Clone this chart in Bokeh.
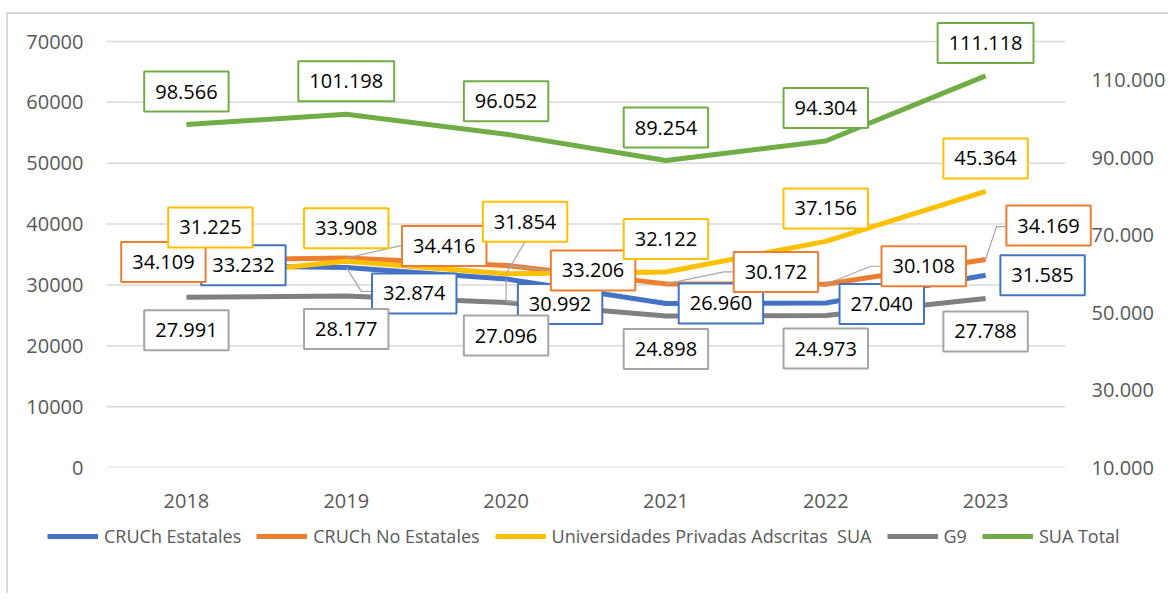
from bokeh.plotting import figure
from bokeh.layouts import column
from bokeh.models import (Range1d, LinearAxis, FixedTicker, ColumnDataSource,
                          Legend, LegendItem)
from bokeh.embed import file_html
from bokeh.resources import INLINE
from bokeh.core.properties import value

# ---------------- data ----------------
years = ["2018", "2019", "2020", "2021", "2022", "2023"]
cruch_estatales = [33232, 32874, 30992, 26960, 27040, 31585]
cruch_no_estatales = [34109, 34416, 33206, 30172, 30108, 34169]
privadas_sua = [31225, 33908, 31854, 32122, 37156, 45364]
g9 = [27991, 28177, 27096, 24898, 24973, 27788]
sua_total = [98566, 101198, 96052, 89254, 94304, 111118]

left_ticks = [0, 10000, 20000, 30000, 40000, 50000, 60000, 70000]
right_ticks = [10000, 30000, 50000, 70000, 90000, 110000]
series_names = ["CRUCh Estatales", "CRUCh No Estatales",
                "Universidades Privadas Adscritas  SUA", "G9", "SUA Total"]

# ---------------- layout / style ----------------
GRID_W, GRID_H = 959, 426          # plot area (gridlines) in px
FRAME_W, FRAME_H = 1090, 448       # frame larger than plot area so labels/legend are not clipped
PAD_L, PAD_T = 67, 22              # frame extends this far left / above the plot area
BORDER_L, BORDER_T, BORDER_R, BORDER_B = 39, 19, 30, 56
LEFT_MAX, RIGHT_MIN, RIGHT_MAX = 70000, 10000, 120000
colors = ["#4472C4", "#ED7D31", "#FFC000", "#808080", "#70AD47"]
box_colors = ["#4472C4", "#ED7D31", "#FFC000", "#A5A5A5", "#70AD47"]
FONT = "Open Sans"
AX_COLOR = "#595959"

# label offsets in screen px (dx right, dy down) relative to each data point
label_offsets = [
    [(57, 0), (68, 26), (54, 25), (55, 0), (56, 1), (57, 0)],
    [(-23, 2), (98, -12), (87, 5), (110, -12), (98, -18), (63, -34)],
    [(24, -50), (0, -33), (19, -52), (0, -33), (0, -33), (0, -33)],
    [(0, 33)] * 6,
    [(0, -33)] * 6,
]
# leader lines: (series index, point index, path of px offsets)
leaders = [
    (2, 0, [(0, 0), (22, -29)]),
    (1, 1, [(0, 0), (57, -13)]),
    (0, 1, [(0, 0), (15, 24), (27, 24)]),
    (2, 2, [(0, 0), (19, -32)]),
    (1, 2, [(0, 0), (45, 5)]),
    (0, 2, [(0, 0), (0, 23), (12, 23)]),
    (1, 3, [(0, 0), (58, -12), (69, -12)]),
    (1, 4, [(0, 0), (45, -18), (56, -18)]),
    (1, 5, [(0, 0), (11, -33), (21, -33)]),
]

n = len(years)
xs = list(range(n))
x_per_px = n / GRID_W
x0 = -0.5 - PAD_L * x_per_px
xr = Range1d(x0, x0 + FRAME_W * x_per_px)

p = figure(frame_width=FRAME_W, frame_height=FRAME_H,
           min_border_left=BORDER_L, min_border_right=BORDER_R,
           min_border_top=BORDER_T, min_border_bottom=BORDER_B,
           x_range=xr,
           y_range=Range1d(0, LEFT_MAX * FRAME_H / GRID_H),
           output_backend="svg", toolbar_location=None,
           background_fill_alpha=0, border_fill_alpha=0)
p.outline_line_color = None
p.extra_y_ranges = {"right": Range1d(RIGHT_MIN, RIGHT_MIN + (RIGHT_MAX - RIGHT_MIN) * FRAME_H / GRID_H)}

# axes
p.xaxis.ticker = FixedTicker(ticks=xs)
p.xaxis.major_label_overrides = {i: y for i, y in enumerate(years)}
p.xaxis.major_label_standoff = 20

p.yaxis.ticker = FixedTicker(ticks=left_ticks)
p.yaxis.major_label_overrides = {t: str(t) for t in left_ticks}
p.yaxis.major_label_standoff = -50

raxis = LinearAxis(y_range_name="right", ticker=FixedTicker(ticks=right_ticks),
                   major_label_overrides={t: f"{t:,}".replace(",", ".") for t in right_ticks})
raxis.major_label_standoff = -44
p.add_layout(raxis, "right")

for ax in [p.xaxis[0], p.yaxis[0], raxis]:
    ax.axis_line_color = None
    ax.major_tick_line_color = None
    ax.minor_tick_line_color = None
    ax.major_label_text_font = FONT
    ax.major_label_text_font_size = "20px"
    ax.major_label_text_color = AX_COLOR

p.xgrid.visible = False
p.ygrid.visible = False
# gridlines across the plot area only
p.segment(x0=[-0.5] * len(left_ticks), x1=[n - 0.5] * len(left_ticks),
          y0=left_ticks, y1=left_ticks, line_color="#D9D9D9", line_width=1.5)

all_series = [cruch_estatales, cruch_no_estatales, privadas_sua, g9, sua_total]
range_names = ["default", "default", "default", "default", "right"]

for vals, col, rn in zip(all_series, colors, range_names):
    p.line(xs, vals, line_color=col, line_width=5, line_join="round", y_range_name=rn)

# leader lines
lx, ly = [], []
for si, pi, path in leaders:
    rn = range_names[si]
    span = LEFT_MAX if rn == "default" else (RIGHT_MAX - RIGHT_MIN)
    y_per_px = span / GRID_H
    lx.append([xs[pi] + dx * x_per_px for dx, dy in path])
    ly.append([all_series[si][pi] - dy * y_per_px for dx, dy in path])
p.multi_line(lx, ly, line_color="#A6A6A6", line_width=1.2)

# data labels
for vals, bc, rn, offs in zip(all_series, box_colors, range_names, label_offsets):
    src = ColumnDataSource(dict(
        x=xs, y=vals,
        t=[f"{v:,}".replace(",", ".") for v in vals],
        dx=[o[0] for o in offs], dy=[o[1] for o in offs]))
    p.text(x="x", y="y", text="t", source=src, x_offset="dx", y_offset="dy",
           text_align="center", text_baseline="middle",
           text_font=value(FONT), text_font_size="20px", text_color="black",
           background_fill_color="white", border_line_color=bc,
           border_line_width=2,
           padding=dict(left=11, right=11, top=13, bottom=13),
           y_range_name=rn)

# ---------------- legend strip (own frame so it is not clipped) ----------------
LEG_H = 70
pl = figure(frame_width=FRAME_W, frame_height=LEG_H, x_range=xr, y_range=Range1d(-2, -1),
            x_axis_type=None, y_axis_type=None,
            min_border_left=BORDER_L, min_border_right=BORDER_R,
            min_border_top=0, min_border_bottom=0,
            output_backend="svg", toolbar_location=None,
            background_fill_alpha=0, border_fill_alpha=0)
pl.outline_line_color = None
pl.grid.visible = False
# same series drawn outside the strip's visible y-range: only their legend glyphs show
leg_renderers = [pl.line(xs, vals, line_color=col, line_width=5)
                 for vals, col in zip(all_series, colors)]
legend = Legend(items=[LegendItem(label=nm, renderers=[r]) for nm, r in zip(series_names, leg_renderers)],
                orientation="horizontal", location=(8, 45),
                label_text_font=FONT, label_text_font_size="18px",
                label_text_color=AX_COLOR, glyph_width=51, glyph_height=20,
                label_standoff=6, spacing=15, padding=0, margin=0,
                border_line_color=None, background_fill_alpha=0)
pl.add_layout(legend)

layout = column(p, pl, spacing=0)
layout.styles = {"box-shadow": ("inset 0 12px 0 0 #FFFFFF, inset 6px 0 0 0 #FFFFFF, "
                                "inset 0 14px 0 0 #D9D9D9, inset 8px 0 0 0 #D9D9D9")}

open("out.html", "w").write(file_html(layout, INLINE))
